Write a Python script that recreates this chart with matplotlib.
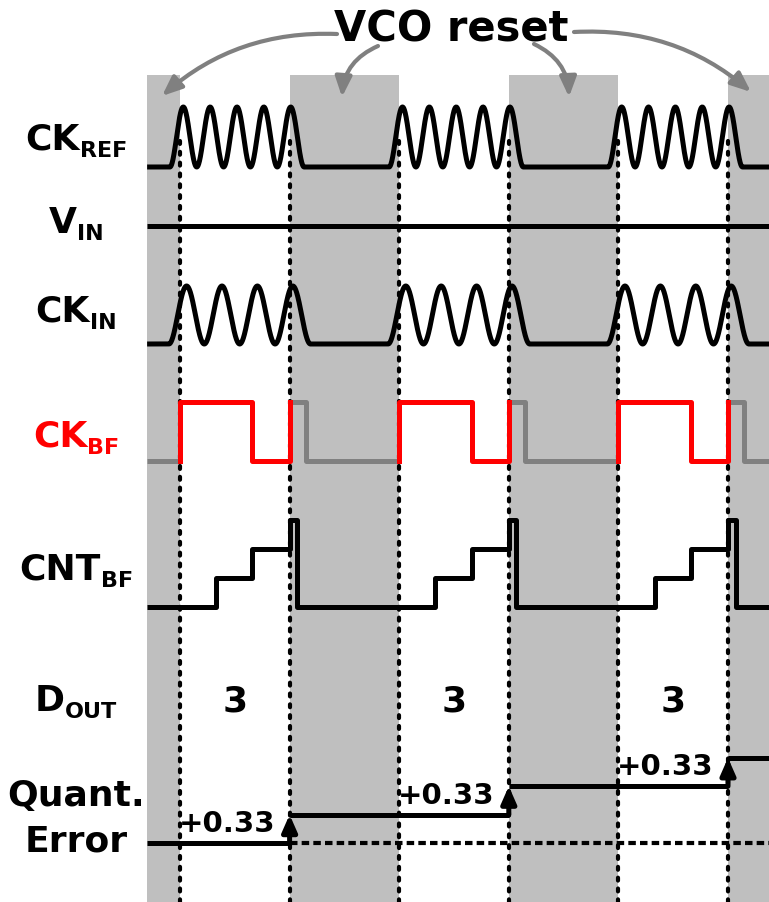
import numpy as np
import matplotlib
matplotlib.use("Agg")
import matplotlib.pyplot as plt
from matplotlib.transforms import Affine2D

# conversion windows in clock units; the VCO is held in reset between them
win_start = [0.0, 2.0, 4.0]
win_end = [1.0, 3.0, 5.0]
reset_bands = [(-0.3, 0.0), (1.0, 2.0), (3.0, 4.0), (5.0, 5.4)]
t_left, t_right = -0.3, 5.4

# sinusoidal clocks: (cycles per window, first-peak offset, period)
ref_cycles, ref_phase, ref_period = 4, 0.03, 0.245
in_cycles, in_phase, in_period = 3, 0.06, 0.323

bf_fall = 0.66   # CK_BF falling edge inside a window
bf_hold = 0.15   # CK_BF stays high this long after the window ends

cnt_edges = [0.33, 0.66, 1.0]
cnt_values = [1, 2, 3]
cnt_clear = 0.07

d_out = [3, 3, 3]
q_err_step = [0.33, 0.33, 0.33]

# layout (pixels from top)
W, H = 769, 903
X0_PX, PX_PER_T = 180.0, 109.6
LABEL_X = 76
LW = 3.6
BAND = "#bfbfbf"
GREY = "#808080"
FONT = "DejaVu Sans"


def px2t(x):
    return (x - X0_PX) / PX_PER_T


def row(ax, base, amp):
    return Affine2D().scale(1, -amp).translate(0, base) + ax.transData


def clock_wave(starts, phase, period, cycles, n=4000):
    t = np.linspace(t_left, t_right, n)
    v = np.zeros_like(t)
    for s in starts:
        a = s + phase - period / 2
        b = a + (cycles + 1) * period
        m = (t >= a) & (t <= b)
        v[m] = (1 - np.cos(2 * np.pi * (t[m] - a) / period)) / 2
    return t, v


def label(ax, y_base, main, sub, color="black", size=26, sub_size=16, drop=7):
    r = ax.figure.canvas.get_renderer()
    t1 = ax.text(0, y_base, main, fontsize=size, fontweight="bold", family=FONT,
                 color=color, ha="left", va="baseline")
    t2 = ax.text(0, y_base + drop, sub, fontsize=sub_size, fontweight="bold",
                 family=FONT, color=color, ha="left", va="baseline")
    w1 = t1.get_window_extent(r).width
    w2 = t2.get_window_extent(r).width
    left = LABEL_X - (w1 + w2) / 2
    t1.set_x(px2t(left))
    t2.set_x(px2t(left + w1))


fig = plt.figure(figsize=(W / 100, H / 100), dpi=100)
ax = fig.add_axes([0, 0, 1, 1])
ax.set_xlim(px2t(0), px2t(W))
ax.set_ylim(H, 0)
ax.axis("off")

# reset bands
for a, b in reset_bands:
    ax.axvspan(a, b, ymin=0, ymax=1 - 76 / H, color=BAND, lw=0, zorder=0)

# window edges
for t in win_start + win_end:
    ax.plot([t, t], [142, H], color="black", lw=3, ls=(0, (0.7, 1.9)),
            dash_capstyle="round", zorder=2)

line_kw = dict(lw=LW, solid_joinstyle="round", solid_capstyle="butt", zorder=3)

# CK_REF
t, v = clock_wave(win_start, ref_phase, ref_period, ref_cycles)
ax.plot(t, v, color="black", transform=row(ax, 168, 60), **line_kw)

# V_IN
ax.plot([t_left, t_right], [0, 0], color="black", transform=row(ax, 227, 1), **line_kw)

# CK_IN
t, v = clock_wave(win_start, in_phase, in_period, in_cycles)
ax.plot(t, v, color="black", transform=row(ax, 345, 58), **line_kw)

# CK_BF: grey while resetting, red inside each window
tr_bf = row(ax, 462, 59)
ax.plot([t_left, win_start[0]], [0, 0], color=GREY, transform=tr_bf, **line_kw)
nxt = win_start[1:] + [t_right]
for s, e, n in zip(win_start, win_end, nxt):
    ax.plot([e, e + bf_hold, e + bf_hold, n], [1, 1, 0, 0], color=GREY,
            transform=tr_bf, **line_kw)
for s, e in zip(win_start, win_end):
    f = s + bf_fall
    ax.plot([s, s, f, f, e, e], [0, 1, 1, 0, 0, 1], color="red",
            transform=tr_bf, lw=LW, solid_joinstyle="round", zorder=4)

# CNT_BF staircase
ct, cv = [t_left], [0]
for s in win_start:
    for edge, val in zip(cnt_edges, cnt_values):
        ct.append(s + edge)
        cv.append(val)
    ct.append(s + cnt_edges[-1] + cnt_clear)
    cv.append(0)
ct.append(t_right)
cv.append(0)
ax.plot(ct, cv, color="black", drawstyle="steps-post",
        transform=row(ax, 608, 29), **line_kw)

# D_OUT values
for s, e, d in zip(win_start, win_end, d_out):
    ax.text((s + e) / 2, 712, str(d), fontsize=26, fontweight="bold",
            family=FONT, ha="center", va="baseline")

# quantization error accumulation
Q_BASE, Q_AMP = 844, 86
tr_q = row(ax, Q_BASE, Q_AMP)
levels = np.concatenate([[0], np.cumsum(q_err_step)])
ax.plot([win_end[0], t_right], [0, 0], color="black", lw=3,
        ls=(0, (1.8, 1.0)), transform=tr_q, zorder=2)
seg_t = [t_left] + win_end + [t_right]
for i, lv in enumerate(levels):
    ax.plot([seg_t[i], seg_t[i + 1]], [lv, lv], color="black", transform=tr_q, **line_kw)
for i, e in enumerate(win_end):
    y0 = Q_BASE - Q_AMP * levels[i]
    y1 = Q_BASE - Q_AMP * levels[i + 1]
    ax.annotate("", xy=(e, y1), xytext=(e, y0),
                arrowprops=dict(arrowstyle="-|>,head_length=0.5,head_width=0.22",
                                mutation_scale=20, lw=LW, color="black",
                                shrinkA=0, shrinkB=0), zorder=5)
    ax.text(e - 14 / PX_PER_T, y0 - 12, f"+{q_err_step[i]:.2f}", fontsize=21,
            fontweight="bold", family=FONT, ha="right", va="baseline", zorder=5)

# VCO reset callout
ax.text(px2t(451), 42, "VCO reset", fontsize=30, fontweight="bold", family=FONT,
        ha="center", va="baseline")
callouts = [((337, 35), (162, 97), 0.2),
            ((378, 47), (342, 98), 0.3),
            ((534, 45), (569, 98), -0.3),
            ((574, 33), (751, 93), -0.2)]
for (xs, ys), (xe, ye), rad in callouts:
    ax.annotate("", xy=(px2t(xe), ye), xytext=(px2t(xs), ys),
                arrowprops=dict(arrowstyle="-|>,head_length=0.6,head_width=0.25",
                                mutation_scale=20, lw=3, color=GREY,
                                shrinkA=0, shrinkB=0,
                                connectionstyle=f"arc3,rad={rad}"), zorder=5)

# row labels
label(ax, 150, "CK", "REF")
label(ax, 233, "V", "IN")
label(ax, 322, "CK", "IN")
label(ax, 447, "CK", "BF", color="red")
label(ax, 580, "CNT", "BF")
label(ax, 711, "D", "OUT")
for y, txt in [(806, "Quant."), (852, "Error")]:
    ax.text(px2t(LABEL_X), y, txt, fontsize=26, fontweight="bold", family=FONT,
            ha="center", va="baseline")

fig.savefig("out.png", dpi=100)
